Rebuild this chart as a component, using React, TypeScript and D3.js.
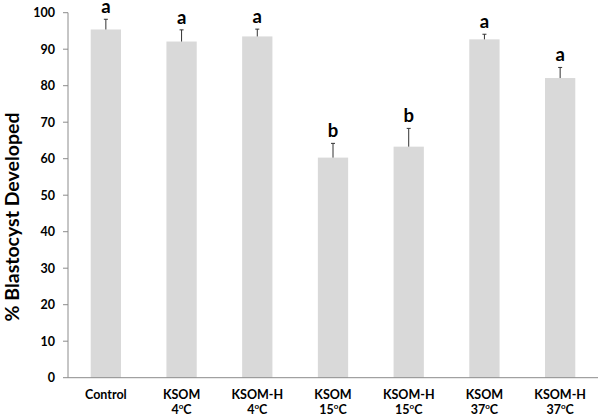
import React from 'react';
import * as d3 from 'd3';

const groups = ['Control', 'KSOM', 'KSOM-H', 'KSOM', 'KSOM-H', 'KSOM', 'KSOM-H'];
const temps = ['', '4', '4', '15', '15', '37', '37'];
const means = [95.4, 92.1, 93.5, 60.3, 63.3, 92.7, 82.1];
const errors = [2.8, 3.2, 2.0, 3.9, 5.0, 1.4, 2.9];
const letters = ['a', 'a', 'a', 'b', 'b', 'a', 'a'];
const yTicks = [0, 10, 20, 30, 40, 50, 60, 70, 80, 90, 100];

export default function App() {
    const width = 600, height = 416;
    const left = 68, right = 598, top = 12.7, bottom = 377.7;
    const font = 'Lato, "Open Sans", sans-serif';

    const x = d3.scaleBand<number>()
        .domain(d3.range(groups.length))
        .range([left, right])
        .paddingInner(0.6)
        .paddingOuter(0.3);

    const y = d3.scaleLinear().domain([0, 100]).range([bottom, top]);

    return (
        <svg width={width} height={height} style={{ position: 'absolute', left: 0, top: 0, background: '#fff' }}>
            {/* bars */}
            {means.map((m, i) => (
                <rect key={'b' + i} x={x(i)} y={y(m)} width={x.bandwidth()} height={y(0) - y(m)} fill="#d9d9d9" />
            ))}
            {/* error bars, upper only */}
            {means.map((m, i) => {
                const cx = (x(i) as number) + x.bandwidth() / 2;
                return (
                    <g key={'e' + i} stroke="#333" strokeWidth={1}>
                        <line x1={cx} x2={cx} y1={y(m)} y2={y(m + errors[i])} />
                        <line x1={cx - 2} x2={cx + 2} y1={y(m + errors[i])} y2={y(m + errors[i])} />
                    </g>
                );
            })}
            {/* significance letters */}
            {means.map((m, i) => (
                <text key={'l' + i} x={(x(i) as number) + x.bandwidth() / 2} y={y(m + errors[i]) - 6}
                    textAnchor="middle" fontFamily={font} fontWeight="bold" fontSize={18.5} fill="#000">
                    {letters[i]}
                </text>
            ))}
            {/* y axis */}
            <line x1={left} x2={left} y1={top} y2={bottom} stroke="#8c8c8c" />
            {yTicks.map(t => (
                <g key={'t' + t}>
                    <line x1={left - 5} x2={left} y1={y(t)} y2={y(t)} stroke="#8c8c8c" />
                    <text x={left - 13} y={y(t) + 4.3} textAnchor="end" fontFamily={font} fontWeight="bold" fontSize={12.5} fill="#000">{t}</text>
                </g>
            ))}
            {/* x axis */}
            <line x1={left} x2={right} y1={bottom} y2={bottom} stroke="#8c8c8c" />
            {groups.map((g, i) => {
                const cx = (x(i) as number) + x.bandwidth() / 2;
                return (
                    <text key={'x' + i} x={cx} textAnchor="middle" fontFamily={font} fontWeight="bold" fontSize={12.5} fill="#000">
                        <tspan x={cx} y={399}>{g}</tspan>
                        {temps[i] && (
                            <tspan x={cx} y={413.5}>{temps[i]}<tspan fontSize={8} dy={-5}>o</tspan><tspan dy={5}>C</tspan></tspan>
                        )}
                    </text>
                );
            })}
            {/* y title */}
            <text transform="translate(19,217) rotate(-90)" textAnchor="middle"
                fontFamily={font} fontWeight="bold" fontSize={19.5} fill="#000">% Blastocyst Developed</text>
        </svg>
    );
}
